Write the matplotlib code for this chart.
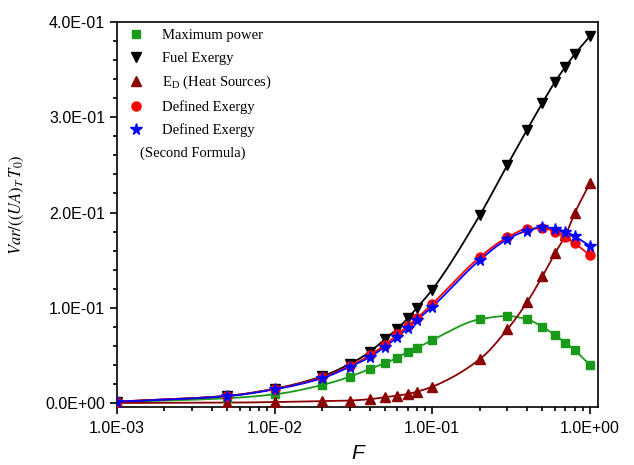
import numpy as np
import matplotlib
matplotlib.use("Agg")
import matplotlib.pyplot as plt
from matplotlib.lines import Line2D
from matplotlib.ticker import FixedLocator, MultipleLocator, NullFormatter

# data
F = [0.001, 0.005, 0.01, 0.02, 0.03, 0.04, 0.05, 0.06, 0.07, 0.08, 0.1,
     0.2, 0.3, 0.4, 0.5, 0.6, 0.7, 0.8, 1.0]
max_power = [0.001, 0.005, 0.0091, 0.0189, 0.0276, 0.0357, 0.0417, 0.0476, 0.054, 0.058, 0.066,
             0.0879, 0.0913, 0.0879, 0.080, 0.0714, 0.0633, 0.0556, 0.040]
fuel_exergy = [0.0015, 0.0075, 0.015, 0.028, 0.041, 0.0535, 0.0669, 0.078, 0.089, 0.100, 0.119,
               0.197, 0.250, 0.287, 0.315, 0.337, 0.353, 0.366, 0.385]
ed_heat = [0.0, 0.0004, 0.001, 0.002, 0.0026, 0.004, 0.006, 0.0077, 0.0094, 0.0119, 0.0171,
           0.0459, 0.0774, 0.106, 0.1330, 0.157, 0.176, 0.199, 0.2307]
defined_ex = [0.0015, 0.0075, 0.0148, 0.027, 0.039, 0.050, 0.061, 0.072, 0.081, 0.089, 0.104,
              0.153, 0.174, 0.1827, 0.1834, 0.180, 0.1746, 0.168, 0.155]
defined_ex2 = [0.0013, 0.0072, 0.0143, 0.026, 0.038, 0.048, 0.059, 0.069, 0.079, 0.087, 0.101,
               0.150, 0.172, 0.181, 0.1845, 0.183, 0.180, 0.175, 0.165]

xticks = [1e-3, 1e-2, 1e-1, 1e0]
xticklabels = ["1.0E-03", "1.0E-02", "1.0E-01", "1.0E+00"]
yticks = [0.0, 0.1, 0.2, 0.3, 0.4]
yticklabels = ["0.0E+00", "1.0E-01", "2.0E-01", "3.0E-01", "4.0E-01"]


def pchip(x, y, n=400):
    # monotone cubic through the points, in log10(x)
    x = np.log10(np.asarray(x, float))
    y = np.asarray(y, float)
    h = np.diff(x)
    d = np.diff(y) / h
    m = np.zeros_like(y)
    for k in range(1, len(x) - 1):
        if d[k - 1] * d[k] > 0:
            w1 = 2 * h[k] + h[k - 1]
            w2 = h[k] + 2 * h[k - 1]
            m[k] = (w1 + w2) / (w1 / d[k - 1] + w2 / d[k])
    m[0] = d[0]
    m[-1] = d[-1]
    xs = np.linspace(x[0], x[-1], n)
    idx = np.clip(np.searchsorted(x, xs) - 1, 0, len(x) - 2)
    t = (xs - x[idx]) / h[idx]
    h00 = 2 * t**3 - 3 * t**2 + 1
    h10 = t**3 - 2 * t**2 + t
    h01 = -2 * t**3 + 3 * t**2
    h11 = t**3 - t**2
    ys = h00 * y[idx] + h10 * h[idx] * m[idx] + h01 * y[idx + 1] + h11 * h[idx] * m[idx + 1]
    return 10**xs, ys


plt.rcParams['mathtext.fontset'] = 'stix'

fig = plt.figure(figsize=(6.34, 4.65), dpi=100)
ax = fig.add_axes([0.1845, 0.1247, 0.7585, 0.828])

series = [
    (max_power, '#1a9a1a', 's', 6, "Maximum power"),
    (fuel_exergy, 'black', 'v', 7, "Fuel Exergy"),
    (ed_heat, '#8b0000', '^', 7, r"E$_\mathregular{D}$ (Heat Sources)"),
    (defined_ex, '#ff0000', 'o', 6.5, "Defined Exergy"),
    (defined_ex2, '#0000ff', '*', 8.5, "Defined Exergy"),
]

handles = []
for vals, col, mk, ms, lab in series:
    xs, ys = pchip(F, vals)
    ax.plot(xs, ys, color=col, lw=1.3, zorder=2)
    ax.plot(F, vals, linestyle='none', marker=mk, ms=ms, color=col, zorder=3)
    handles.append(Line2D([], [], linestyle='none', marker=mk, ms=ms, color=col, label=lab))

ax.set_xscale('log')
ax.set_xlim(1e-3, 1.124)
ax.set_ylim(-0.0042, 0.4)

ax.xaxis.set_major_locator(FixedLocator(xticks))
ax.set_xticklabels(xticklabels)
ax.xaxis.set_minor_locator(FixedLocator([k * 10.0**e for e in range(-3, 1) for k in range(2, 10)]))
ax.xaxis.set_minor_formatter(NullFormatter())
ax.set_yticks(yticks)
ax.set_yticklabels(yticklabels)
ax.yaxis.set_minor_locator(MultipleLocator(0.02))

ax.tick_params(which='both', direction='out', top=False, right=False, width=1.2,
               labelsize=11.5, labelfontfamily='Liberation Sans')
ax.tick_params(which='major', length=5)
ax.tick_params(which='minor', length=3)
ax.tick_params(axis='x', pad=5)
for s in ax.spines.values():
    s.set_linewidth(1.2)

ax.set_xlabel("F", fontsize=15, fontstyle='italic', family='Liberation Sans', labelpad=6)
ax.set_ylabel(r"$Var/((UA)_T\,T_0)$", fontsize=12)
ax.yaxis.set_label_coords(-0.19, 0.525)

leg = ax.legend(handles=handles, loc='upper left', bbox_to_anchor=(0.008, 1.0), frameon=False,
                prop={'family': 'Liberation Serif', 'size': 10.5}, handletextpad=1.2,
                labelspacing=0.62, handlelength=1.1, borderaxespad=0.1)
ax.text(0.048, 0.66, "(Second Formula)", transform=ax.transAxes, family='Liberation Serif',
        fontsize=10.5, va='center', ha='left')

fig.savefig("out.png", dpi=100)
